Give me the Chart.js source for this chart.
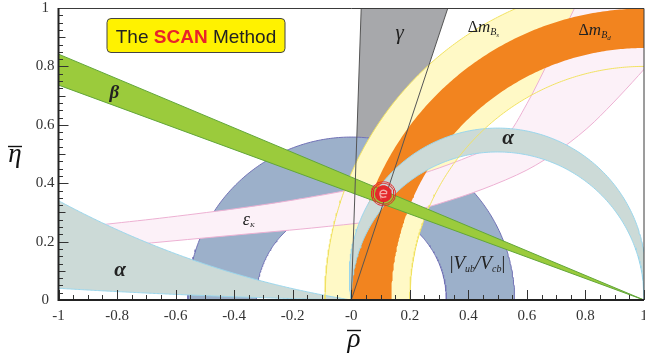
<!DOCTYPE html>
<html><head><meta charset="utf-8">
<script src="https://cdn.jsdelivr.net/npm/chart.js@4.4.1/dist/chart.umd.min.js"></script>
<style>html,body{margin:0;padding:0;background:#fff;}canvas{display:block;}</style>
</head><body>
<canvas id="c" width="645" height="355"></canvas>
<script>
// ---------------- data ----------------
const xTicks = [-1, -0.8, -0.6, -0.4, -0.2, 0, 0.2, 0.4, 0.6, 0.8, 1];
const xTickLabels = ['-1', '-0.8', '-0.6', '-0.4', '-0.2', '-0', '0.2', '0.4', '0.6', '0.8', '1'];
const yTicks = [0, 0.2, 0.4, 0.6, 0.8, 1];
const yTickLabels = ['0', '0.2', '0.4', '0.6', '0.8', '1'];

const betaTan = [0.368, 0.421];          // tan(beta) of band edges, apex (1,0)
const gammaCot = [0.034, 0.33];          // cot(gamma) of band edges, apex (0,0)
const vubRadii = [0.325, 0.558];         // |Vub/Vcb| circles about (0,0)
const dmdRadii = [0.863, 0.998];         // Delta m_Bd circles about (1,0)
const dmsRadii = [0.80, 1.09];           // Delta m_Bs circles about (1,0)
const alphaRightC = [0.007, 0.082];      // centre heights of alpha circles through (0,0),(1,0)
const alphaLeftC = [25, 3.11];
const epsUpperRho = [-0.86, -0.654, -0.4, -0.2, 0, 0.2, 0.4, 0.52, 0.6, 0.68, 0.763, 0.82];
const epsUpperEta = [0.257, 0.28, 0.312, 0.342, 0.378, 0.42, 0.49, 0.55, 0.672, 0.83, 1.0, 1.12];
const epsLowerRho = [-0.72, -0.4, -0.1, 0.1, 0.3, 0.45, 0.6, 0.72, 0.83, 1.0, 1.06];
const epsLowerEta = [0.192, 0.222, 0.25, 0.275, 0.33, 0.38, 0.445, 0.52, 0.61, 0.79, 0.87];
const fitCentre = [0.11, 0.364];
const fitRings = [0.041, 0.0355];        // radii of the contour rings
const fitCore = [0.029];                 // radius of the filled core

// ---------------- geometry helpers ----------------
function arc(cx, cy, r, a0, a1, n) {
  n = n || 200; const p = [];
  for (let i = 0; i <= n; i++) { const a = a0 + (a1 - a0) * i / n; p.push({x: cx + r * Math.cos(a), y: cy + r * Math.sin(a)}); }
  return p;
}
function annulus(cx, cy, r0, r1, a0, a1) { return arc(cx, cy, r1, a0, a1).concat(arc(cx, cy, r0, a1, a0)); }
function alphaUpperArc(c) { const r = Math.sqrt(0.25 + c * c); const t = Math.atan2(c, 0.5); return {c, r, a0: -t, a1: Math.PI + t}; }
function alphaLowerArc(c, xl) {
  const r = Math.sqrt(0.25 + c * c);
  const aL = Math.atan2(-Math.sqrt(r * r - (xl - 0.5) * (xl - 0.5)), xl - 0.5);
  const aZ = Math.atan2(-c, -0.5);
  return arc(0.5, c, r, aL, aZ, 240);
}
function pts(xs, ys) { return xs.map((v, i) => ({x: v, y: ys[i]})); }

// ---------------- datasets (bottom -> top) ----------------
const ds = [];
function add(data, o) {
  ds.push(Object.assign({data, showLine: true, pointRadius: 0, pointHoverRadius: 0, borderWidth: 0, fill: false, tension: 0}, o));
}
const E = 1.12;
add([{x: 0, y: 0}, {x: gammaCot[0] * E, y: E}, {x: gammaCot[1] * E, y: E}], {fill: 'shape', backgroundColor: '#A7A8AB'});
add(annulus(0, 0, vubRadii[0], vubRadii[1], 0, Math.PI), {fill: 'shape', backgroundColor: '#9CB0CA', borderColor: '#7272B6', borderWidth: 1});
add(annulus(1, 0, dmsRadii[0], dmsRadii[1], Math.PI / 2 - 0.1, Math.PI), {fill: 'shape', backgroundColor: '#FFF9C6'});
const epsPoly = pts(epsUpperRho, epsUpperEta).concat([{x: 1.1, y: 1.12}, {x: 1.1, y: 0.92}]).concat(pts(epsLowerRho, epsLowerEta).reverse());
add(epsPoly, {fill: 'shape', backgroundColor: '#FCF1F8', tension: 0.3});
add(pts(epsUpperRho, epsUpperEta), {borderColor: '#EDB1D3', borderWidth: 1, tension: 0.3});
add(pts(epsLowerRho, epsLowerEta), {borderColor: '#EDB1D3', borderWidth: 1, tension: 0.3});
add(annulus(1, 0, dmdRadii[0], dmdRadii[1], Math.PI / 2 - 0.1, Math.PI), {fill: 'shape', backgroundColor: '#F2841F'});
add(alphaLowerArc(alphaLeftC[1], -1.1).concat(alphaLowerArc(alphaLeftC[0], -1.1).reverse()), {fill: 'shape', backgroundColor: '#CCDAD7', borderColor: '#9AD6EC', borderWidth: 1});
const aIn = alphaUpperArc(alphaRightC[0]), aOut = alphaUpperArc(alphaRightC[1]);
add(arc(0.5, aOut.c, aOut.r, aOut.a0, aOut.a1).concat(arc(0.5, aIn.c, aIn.r, aIn.a1, aIn.a0)), {fill: 'shape', backgroundColor: '#CCDAD7', borderColor: '#9AD6EC', borderWidth: 1});
add(arc(1, 0, dmsRadii[0], Math.PI / 2 - 0.1, Math.PI), {borderColor: '#F1E262', borderWidth: 1});
add(arc(1, 0, dmsRadii[1], Math.PI / 2 - 0.1, Math.PI), {borderColor: '#F1E262', borderWidth: 1});
add([{x: -1.1, y: betaTan[0] * 2.1}, {x: 1, y: 0}, {x: -1.1, y: betaTan[1] * 2.1}], {fill: 'shape', backgroundColor: '#9BCB3C', borderColor: '#62A63A', borderWidth: 1});
add([{x: 0, y: 0}, {x: gammaCot[0] * E, y: E}], {borderColor: '#555555', borderWidth: 1});
add([{x: 0, y: 0}, {x: gammaCot[1] * E, y: E}], {borderColor: '#555555', borderWidth: 1});
add(arc(fitCentre[0], fitCentre[1], fitCore[0], 0, 2 * Math.PI, 80), {fill: 'shape', backgroundColor: '#E4292B'});
fitRings.forEach(r => add(arc(fitCentre[0], fitCentre[1], r, 0, 2 * Math.PI, 80), {borderColor: '#E4292B', borderWidth: 1}));
const eR = 0.012;
add([{x: fitCentre[0] - eR, y: fitCentre[1]}].concat(arc(fitCentre[0], fitCentre[1], eR, 0, 1.75 * Math.PI, 40)), {borderColor: '#F4A9A4', borderWidth: 1.3});
ds.forEach((d, i) => { d.order = ds.length - i; });

// ---------------- decorations ----------------
const SERIF = '"Liberation Serif", "DejaVu Serif", serif';
const labelItems = [
  {rho: -0.809, eta: 0.692, align: 'center', runs: [{t: 'β', f: 'italic bold 19px ' + SERIF}]},
  {rho: 0.1655, eta: 0.894, align: 'center', runs: [{t: 'γ', f: 'italic 21px ' + SERIF}]},
  {rho: 0.3976, eta: 0.918, align: 'left', runs: [{t: 'Δ', f: '16px ' + SERIF}, {t: 'm', f: 'italic 17px ' + SERIF}, {t: 'B', f: 'italic 10px ' + SERIF, dy: 3}, {t: 's', f: 'italic 7px ' + SERIF, dy: 5}]},
  {rho: 0.7765, eta: 0.9075, align: 'left', runs: [{t: 'Δ', f: '16px ' + SERIF}, {t: 'm', f: 'italic 17px ' + SERIF}, {t: 'B', f: 'italic 10px ' + SERIF, dy: 3}, {t: 'd', f: 'italic 7px ' + SERIF, dy: 5}]},
  {rho: 0.5358, eta: 0.5342, align: 'center', runs: [{t: 'α', f: 'italic bold 21px ' + SERIF}]},
  {rho: -0.7901, eta: 0.0822, align: 'center', runs: [{t: 'α', f: 'italic bold 21px ' + SERIF}]},
  {rho: -0.3703, eta: 0.2568, align: 'left', runs: [{t: 'ε', f: 'italic 18px ' + SERIF}, {t: 'K', f: 'italic 7px ' + SERIF, dy: 2}]},
  {rho: 0.3362, eta: 0.1062, align: 'left', runs: [{t: '|', f: '19px ' + SERIF}, {t: 'V', f: 'italic 19px ' + SERIF}, {t: 'ub', f: 'italic 10px ' + SERIF, dy: 3}, {t: '/', f: 'italic 19px ' + SERIF}, {t: 'V', f: 'italic 19px ' + SERIF}, {t: 'cb', f: 'italic 10px ' + SERIF, dy: 3}, {t: '|', f: '19px ' + SERIF}]}
];
function drawRuns(ctx, x0, y0, runs, align) {
  let w = 0;
  runs.forEach(r => { ctx.font = r.f; w += ctx.measureText(r.t).width; });
  let x = align === 'center' ? x0 - w / 2 : x0;
  runs.forEach(r => { ctx.font = r.f; ctx.fillText(r.t, x, y0 + (r.dy || 0)); x += ctx.measureText(r.t).width; });
}
const decor = {
  id: 'decor',
  afterDatasetsDraw(chart) {
    const {ctx, chartArea: a, scales: {x, y}} = chart;
    ctx.save();
    ctx.fillStyle = '#222'; ctx.textBaseline = 'alphabetic'; ctx.textAlign = 'left';
    labelItems.forEach(it => drawRuns(ctx, x.getPixelForValue(it.rho), y.getPixelForValue(it.eta), it.runs, it.align));
    const bx = a.left + 48.5, by = a.top + 10.5, bw = 178, bh = 34, rr = 4;
    ctx.beginPath();
    ctx.moveTo(bx + rr, by); ctx.arcTo(bx + bw, by, bx + bw, by + bh, rr); ctx.arcTo(bx + bw, by + bh, bx, by + bh, rr);
    ctx.arcTo(bx, by + bh, bx, by, rr); ctx.arcTo(bx, by, bx + bw, by, rr); ctx.closePath();
    ctx.fillStyle = '#FFF200'; ctx.fill(); ctx.strokeStyle = '#444'; ctx.lineWidth = 1; ctx.stroke();
    const SANS = '"Liberation Sans", Arial, sans-serif';
    const parts = [{t: 'The ', f: '19px ' + SANS, c: '#222'}, {t: 'SCAN', f: 'bold 19px ' + SANS, c: '#E8232A'}, {t: ' Method', f: '19px ' + SANS, c: '#222'}];
    let tw = 0; parts.forEach(p => { ctx.font = p.f; tw += ctx.measureText(p.t).width; });
    let tx = bx + bw / 2 - tw / 2; const ty = by + 24;
    parts.forEach(p => { ctx.font = p.f; ctx.fillStyle = p.c; ctx.fillText(p.t, tx, ty); tx += ctx.measureText(p.t).width; });
    ctx.strokeStyle = '#333'; ctx.lineWidth = 1;
    for (let k = 0; k <= 40; k++) {
      const px = Math.round(x.getPixelForValue(-1 + k * 0.05)) + 0.5, len = k % 4 === 0 ? 10 : 5;
      ctx.beginPath(); ctx.moveTo(px, a.bottom); ctx.lineTo(px, a.bottom - len); ctx.stroke();
    }
    for (let k = 0; k <= 40; k++) {
      const py = Math.round(y.getPixelForValue(k * 0.025)) + 0.5, len = k % 8 === 0 ? 10 : (k % 4 === 0 ? 7 : 4.5);
      ctx.beginPath(); ctx.moveTo(a.left, py); ctx.lineTo(a.left + len, py); ctx.stroke();
    }
    ctx.strokeStyle = '#3a3a3a'; ctx.lineWidth = 1;
    ctx.beginPath(); ctx.moveTo(a.left, a.top + 0.5); ctx.lineTo(a.right, a.top + 0.5); ctx.lineTo(a.right, a.bottom); ctx.stroke();
    ctx.strokeStyle = '#222'; ctx.lineWidth = 2;
    ctx.beginPath(); ctx.moveTo(a.left, a.top); ctx.lineTo(a.left, a.bottom); ctx.lineTo(a.right, a.bottom); ctx.stroke();
    ctx.fillStyle = '#111'; ctx.strokeStyle = '#111'; ctx.lineWidth = 1.4;
    ctx.font = 'italic 27px ' + SERIF; ctx.textAlign = 'center';
    ctx.fillText('η', 15, 162);
    ctx.beginPath(); ctx.moveTo(8, 146.5); ctx.lineTo(22, 146.5); ctx.stroke();
    ctx.fillText('ρ', 354, 347);
    ctx.beginPath(); ctx.moveTo(347, 330.5); ctx.lineTo(361, 330.5); ctx.stroke();
    ctx.restore();
  }
};

Chart.defaults.font.family = SERIF;
const tickFont = {family: SERIF, size: 15};
new Chart(document.getElementById('c'), {
  type: 'scatter',
  data: {datasets: ds},
  options: {
    responsive: false, animation: false, events: [],
    layout: {padding: {left: 0.5, right: 1, top: 8, bottom: 0}, autoPadding: false},
    elements: {line: {capBezierPoints: false}},
    plugins: {legend: {display: false}, tooltip: {enabled: false}},
    scales: {
      x: {
        type: 'linear', min: -1, max: 1,
        afterBuildTicks: s => { s.ticks = xTicks.map(v => ({value: v})); },
        afterFit: s => { s.height = 55; s.paddingLeft = 0; s.paddingRight = 0; },
        ticks: {callback: (v, i) => xTickLabels[i], font: tickFont, color: '#333', padding: 7, maxRotation: 0, autoSkip: false},
        grid: {display: false, drawTicks: false}, border: {display: false}
      },
      y: {
        type: 'linear', min: 0, max: 1,
        afterBuildTicks: s => { s.ticks = yTicks.map(v => ({value: v})); },
        afterFit: s => { s.width = 58; s.paddingTop = 0; s.paddingBottom = 0; },
        ticks: {callback: (v, i) => yTickLabels[i], font: tickFont, color: '#333', padding: 4, crossAlign: 'center', autoSkip: false},
        grid: {display: false, drawTicks: false}, border: {display: false}
      }
    }
  },
  plugins: [decor]
});
</script>
</body></html>
